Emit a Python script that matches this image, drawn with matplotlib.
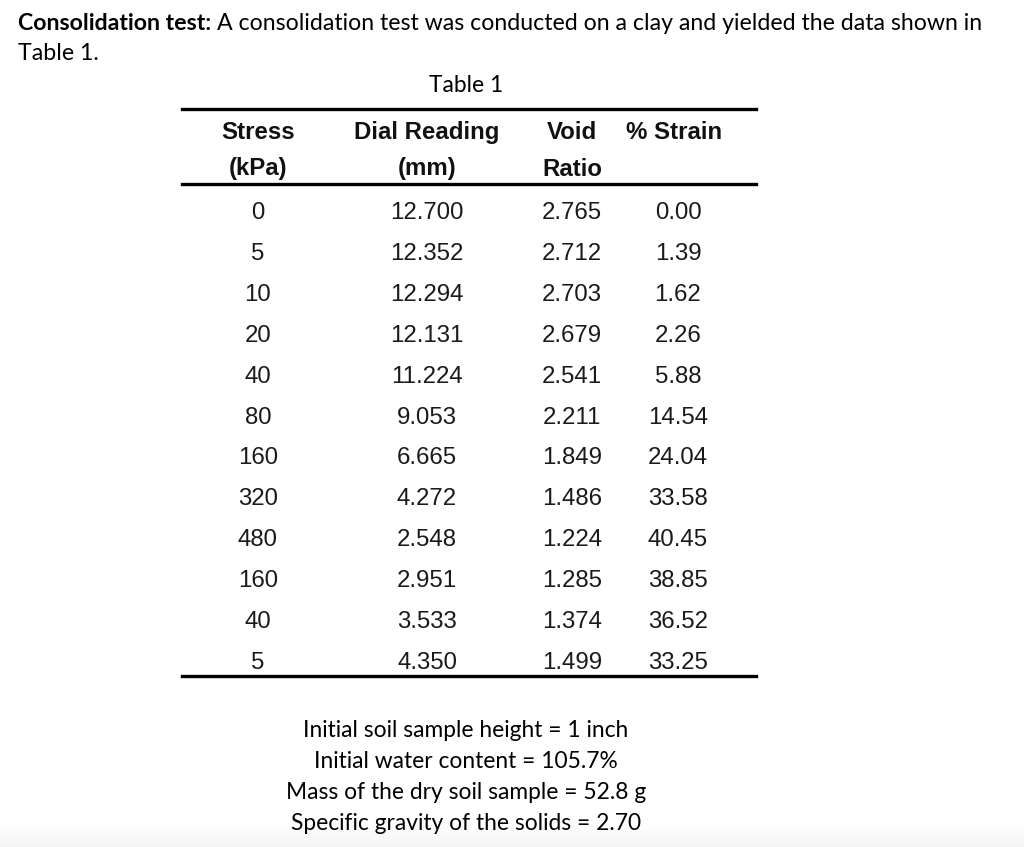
import numpy as np
import matplotlib
matplotlib.use('Agg')
import matplotlib.pyplot as plt
from matplotlib.lines import Line2D

W, H = 1024, 847

# table data
stress = [0, 5, 10, 20, 40, 80, 160, 320, 480, 160, 40, 5]
dial = [12.700, 12.352, 12.294, 12.131, 11.224, 9.053, 6.665, 4.272, 2.548, 2.951, 3.533, 4.350]
void = [2.765, 2.712, 2.703, 2.679, 2.541, 2.211, 1.849, 1.486, 1.224, 1.285, 1.374, 1.499]
strain = [0.00, 1.39, 1.62, 2.26, 5.88, 14.54, 24.04, 33.58, 40.45, 38.85, 36.52, 33.25]

headers1 = ['Stress', 'Dial Reading', 'Void', '% Strain']
headers2 = ['(kPa)', '(mm)', 'Ratio', '']

notes = ['Initial soil sample height = 1 inch',
         'Initial water content = 105.7%',
         'Mass of the dry soil sample = 52.8 g',
         'Specific gravity of the solids = 2.70']

fig = plt.figure(figsize=(W/100, H/100), dpi=100)
fig.patch.set_facecolor('white')

def fx(x):
    return x / W

def fy(y):
    return 1 - y / H

# light grey fade at the very bottom
bg = fig.add_axes([0, 0, 1, 24/H])
grad = np.linspace(0, 1, 50).reshape(-1, 1)
bg.imshow(grad, aspect='auto', cmap='Greys', vmin=0, vmax=12, extent=[0, 1, 0, 1], origin='upper')
bg.axis('off')

calib = 'Lato'
arial = 'Liberation Sans'
fs_c = 16.4
fs_t = 16.65
fs_a = 17.3

# intro text, bold lead-in then the normal part right after it
lead = fig.text(fx(18), fy(23), 'Consolidation test:', fontsize=fs_t, fontweight='bold', family=calib,
                va='center', ha='left')
r = fig.canvas.get_renderer()
bb = lead.get_window_extent(renderer=r)
fig.text((bb.x1 + 6) / W, fy(23), 'A consolidation test was conducted on a clay and yielded the data shown in',
         fontsize=fs_t, family=calib, va='center', ha='left')
fig.text(fx(18), fy(54), 'Table 1.', fontsize=fs_t, family=calib, va='center', ha='left')
fig.text(fx(466), fy(85), 'Table 1', fontsize=fs_c, family=calib, va='center', ha='center')

# rules
for yy in [109, 184, 676]:
    fig.add_artist(Line2D([fx(182), fx(756)], [fy(yy), fy(yy)], color='black', lw=2.4,
                          transform=fig.transFigure))

col_x = [258, 427, 572, 678]
head_x = [258, 427, 572, 674]
for i in range(4):
    fig.text(fx(head_x[i]), fy(132), headers1[i], fontsize=fs_a, fontweight='bold', family=arial,
             va='center', ha='center', color='#111111')
    if headers2[i]:
        fig.text(fx(head_x[i]), fy(169), headers2[i], fontsize=fs_a, fontweight='bold', family=arial,
                 va='center', ha='center', color='#111111')

row_y = 213
dy = 40.9
for k in range(len(stress)):
    y = row_y + k * dy
    vals = [str(stress[k]), '%.3f' % dial[k], '%.3f' % void[k], '%.2f' % strain[k]]
    for i in range(4):
        fig.text(fx(col_x[i]), fy(y), vals[i], fontsize=fs_a, family=arial,
                 va='center', ha='center', color='#1a1a1a')

# notes under table
for k, t in enumerate(notes):
    fig.text(fx(466), fy(730 + k * 31), t, fontsize=fs_c, family=calib, va='center', ha='center')

fig.savefig('out.png', dpi=100, facecolor='white')
